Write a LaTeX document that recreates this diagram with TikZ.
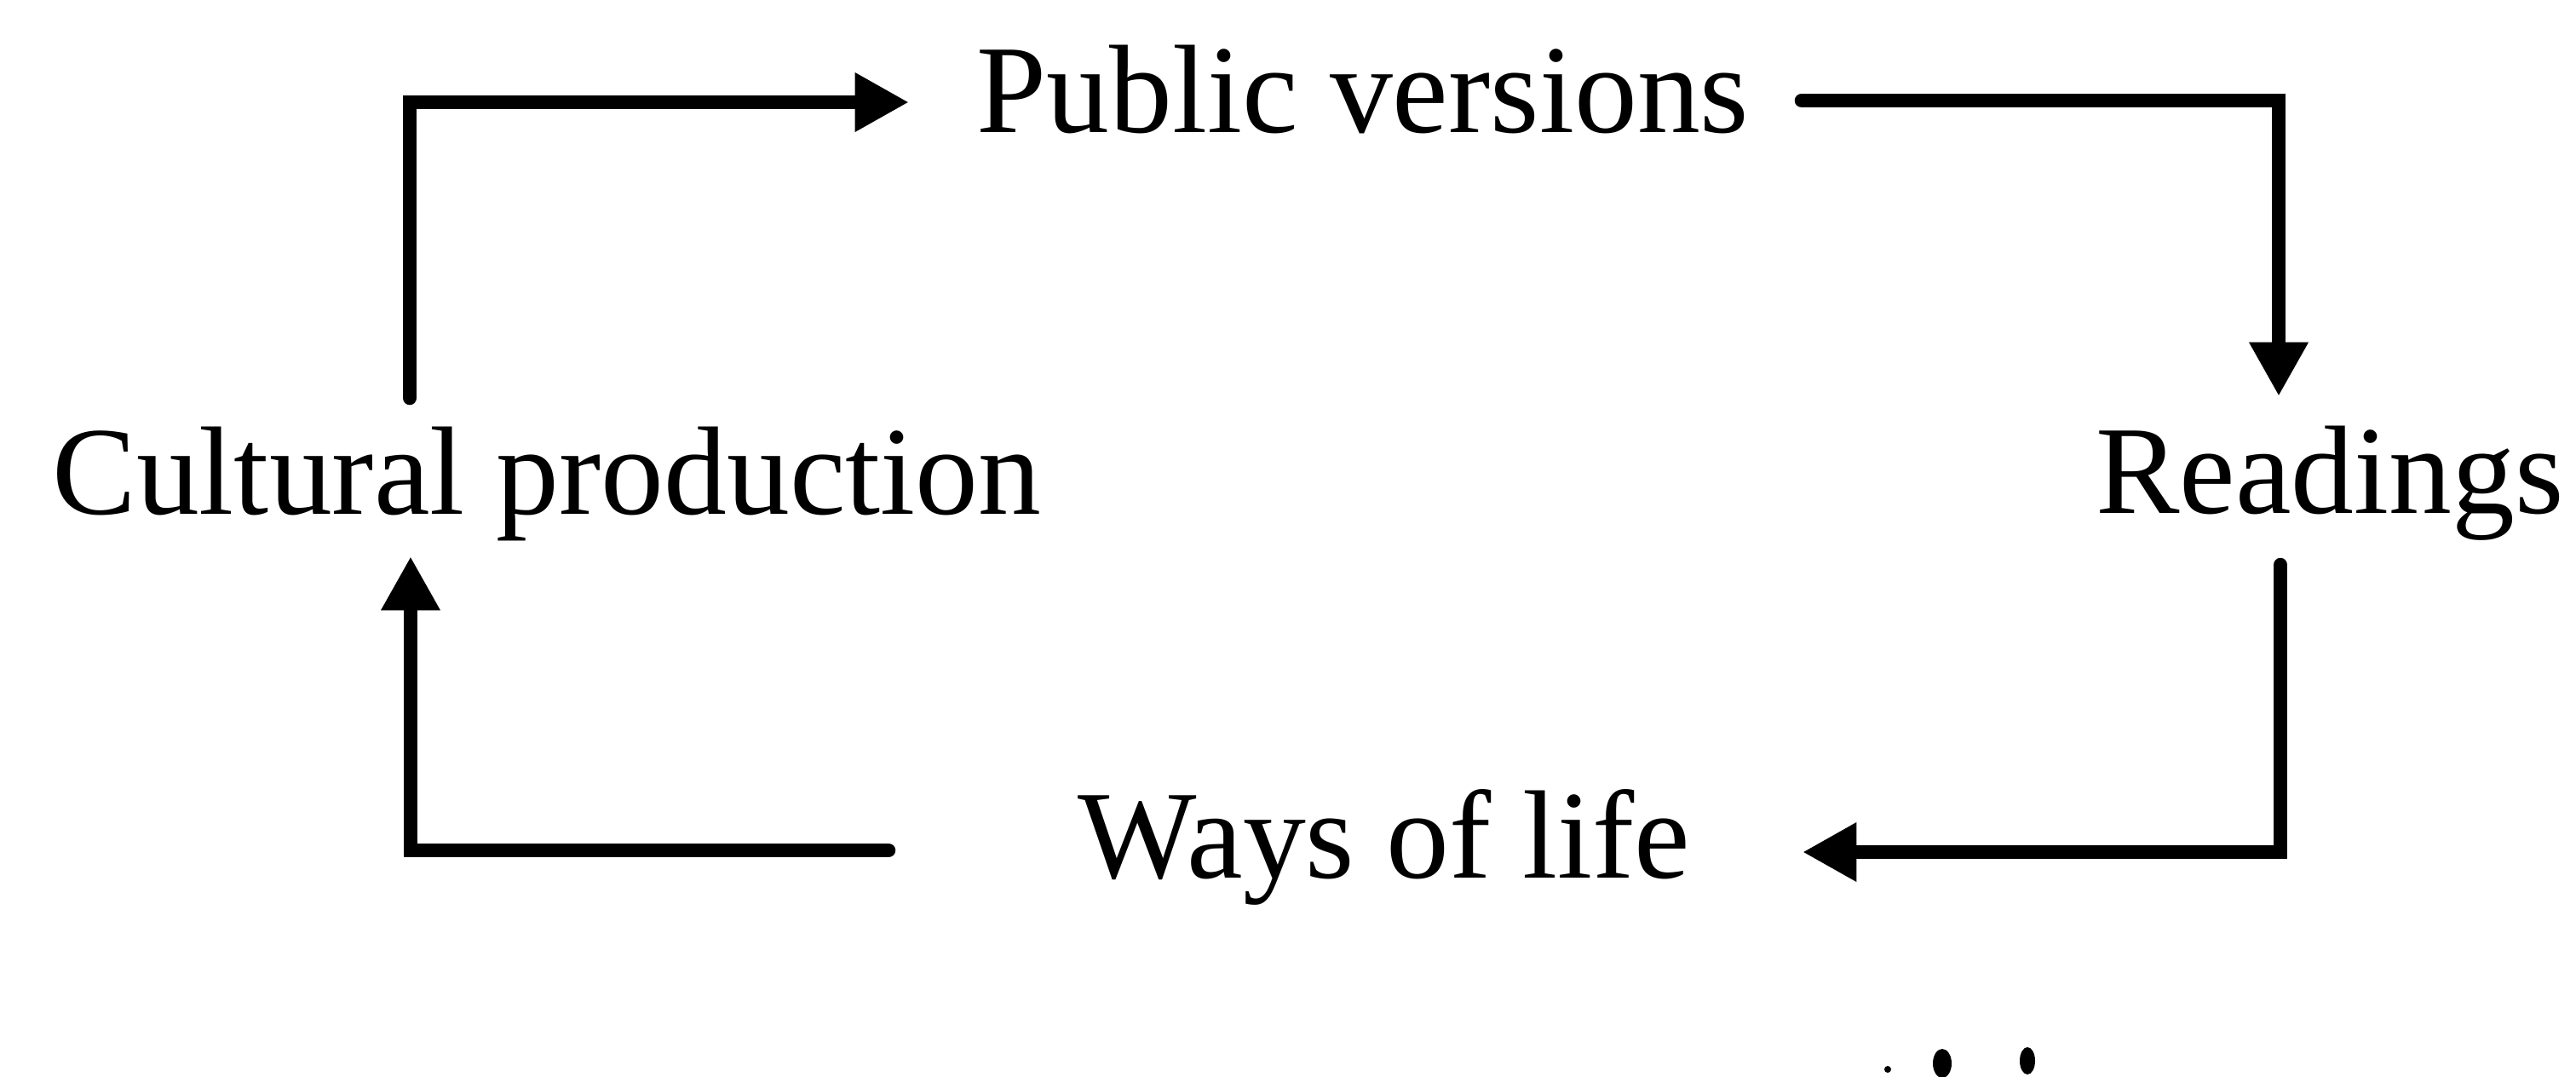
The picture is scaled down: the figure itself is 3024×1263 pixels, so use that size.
\documentclass[tikz,border=0pt]{standalone}
\usepackage{fontspec}
\setmainfont{Liberation Serif}
\usetikzlibrary{arrows.meta}
\tikzset{
  lbl/.style={inner sep=0pt, anchor=base, font=\fontsize{42}{50}\selectfont},
  conn/.style={line width=4.7pt, line join=miter, line cap=round, draw=black},
  tip/.style={-{Triangle[length=18pt,width=18.5pt]}}
}
\begin{document}
\begin{tikzpicture}[x=0.01cm, y=-0.01cm]
\path[use as bounding box, fill=white] (0,0) rectangle (3024,1263);
% labels
\node[lbl] (pv) at (1600,155) {Public versions};
\node[lbl] (cp) at (642,603) {Cultural production};
\node[lbl] (rd) at (2735,602) {Readings};
\node[lbl] (wl) at (1625,1030) {Ways of life};
% connector end points
\coordinate (a0) at (481,467);
\coordinate (a1) at (481,120);
\coordinate (a2) at (1067,120);
\coordinate (b0) at (2115,118);
\coordinate (b1) at (2675,118);
\coordinate (b2) at (2675,465);
\coordinate (c0) at (2677,663);
\coordinate (c1) at (2677,1000);
\coordinate (c2) at (2116,1000);
\coordinate (d0) at (1043,998);
\coordinate (d1) at (482,998);
\coordinate (d2) at (482,653);
% connectors
\draw[conn,tip] (a0) -- (a1) -- (a2);
\draw[conn,tip] (b0) -- (b1) -- (b2);
\draw[conn,tip] (c0) -- (c1) -- (c2);
\draw[conn,tip] (d0) -- (d1) -- (d2);
% specks
\fill (2216,1255) circle[radius=0.04cm];
\fill (2280,1248) ellipse[x radius=0.11cm, y radius=0.17cm];
\fill (2380,1245) ellipse[x radius=0.09cm, y radius=0.16cm];
\end{tikzpicture}
\end{document}
